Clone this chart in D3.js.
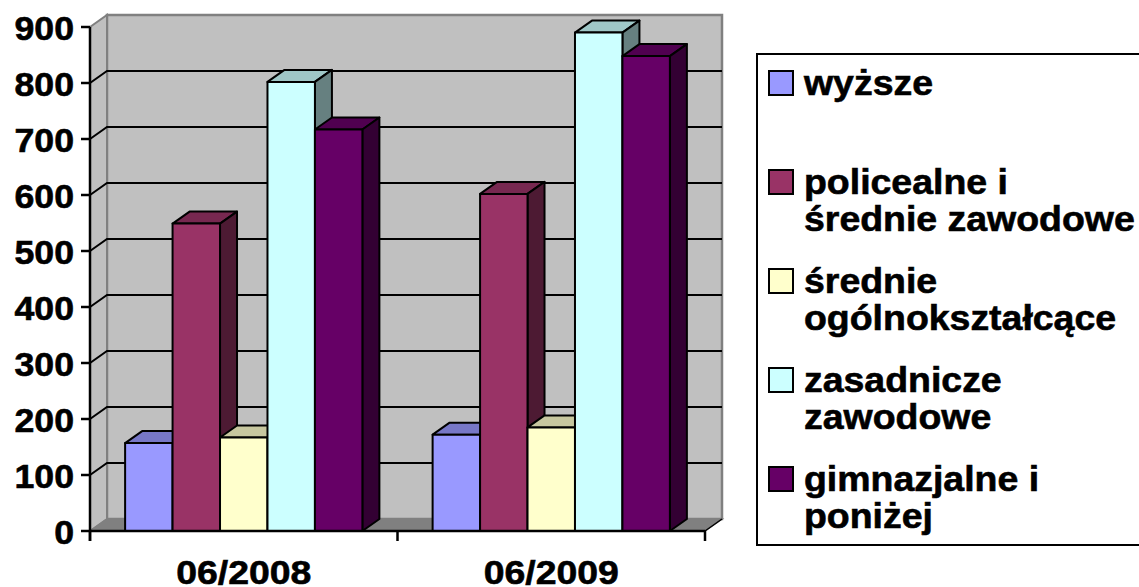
<!DOCTYPE html>
<html>
<head>
<meta charset="utf-8">
<script src="https://cdn.jsdelivr.net/npm/d3@7"></script>
<style>
  body { margin: 0; background: #fff; }
  svg { display: block; }
</style>
</head>
<body>
<div id="chart"></div>
<script>
// data
var categories = ["06/2008", "06/2009"];
var seriesNames = ["wyższe", "policealne i średnie zawodowe", "średnie ogólnokształcące", "zasadnicze zawodowe", "gimnazjalne i poniżej"];
var legendLines = [["wyższe"], ["policealne i", "średnie zawodowe"], ["średnie", "ogólnokształcące"], ["zasadnicze", "zawodowe"], ["gimnazjalne i", "poniżej"]];
var values2008 = [157, 549, 167, 802, 717];
var values2009 = [172, 602, 185, 890, 848];
var seriesColors = ["#9999FF", "#993366", "#FFFFCC", "#CCFFFF", "#660066"];

var attrs = {
    svgWidth: 1139,
    svgHeight: 587,
    fontFamily: "'Liberation Sans', Arial, sans-serif",
    fontSize: 34,
    depthX: 17,
    depthY: -12,
    wallFill: "#C0C0C0",
    wallStroke: "#808080",
    floorFill: "#808080"
};

var rows = categories.map(function (c, i) {
    var vals = i === 0 ? values2008 : values2009;
    return { category: c, values: seriesNames.map(function (s, j) { return { name: s, value: vals[j], color: seriesColors[j] }; }) };
});

var svg = d3.select("#chart").append("svg")
    .attr("width", attrs.svgWidth)
    .attr("height", attrs.svgHeight)
    .attr("font-family", attrs.fontFamily)
    .attr("font-weight", "bold");

// scales
var y = d3.scaleLinear().domain([0, 900]).range([531, 27]);
var x0 = d3.scaleBand().domain(categories).range([90, 705]).padding(0);
var x1 = d3.scaleBand().domain(seriesNames).range([0, x0.bandwidth()]).paddingInner(0).paddingOuter(0.74);

var dx = attrs.depthX, dy = attrs.depthY;
var left = x0.range()[0], right = x0.range()[1];
var line = d3.line();

// walls and floor
svg.append("rect")
    .attr("x", left + dx).attr("y", y(900) + dy)
    .attr("width", right - left).attr("height", y(0) - y(900))
    .attr("fill", attrs.wallFill).attr("stroke", attrs.wallStroke).attr("stroke-width", 2.5);

svg.append("path")
    .attr("d", line([[left, y(900)], [left + dx, y(900) + dy], [left + dx, y(0) + dy], [left, y(0)]]) + "Z")
    .attr("fill", attrs.wallFill).attr("stroke", attrs.wallStroke).attr("stroke-width", 2);

svg.append("path")
    .attr("d", line([[left, y(0)], [left + dx, y(0) + dy], [right + dx, y(0) + dy], [right, y(0)]]) + "Z")
    .attr("fill", attrs.floorFill).attr("stroke", attrs.wallStroke).attr("stroke-width", 1.5);

svg.append("path")
    .attr("d", line([[right, y(0)], [right + dx, y(0) + dy]]))
    .attr("stroke", "#000").attr("stroke-width", 1.5);

// gridlines
var gridVals = y.ticks(9).filter(function (d) { return d > 0 && d < 900; });
svg.append("g").selectAll("path").data(gridVals).enter().append("path")
    .attr("d", function (d) { return line([[left, y(d)], [left + dx, y(d) + dy], [right + dx, y(d) + dy]]); })
    .attr("fill", "none").attr("stroke", "#000").attr("stroke-width", 2);

// bars
function shade(c, k) {
    var r = d3.rgb(c);
    return d3.rgb(r.r * k, r.g * k, r.b * k).formatHex();
}

var groups = svg.append("g").selectAll("g").data(rows).enter().append("g")
    .attr("transform", function (d) { return "translate(" + x0(d.category) + ",0)"; });

groups.each(function (row) {
    var g = d3.select(this);
    row.values.forEach(function (d) {
        var xa = x1(d.name), xb = xa + x1.bandwidth();
        var yt = y(d.value), yb = y(0);
        var bar = g.append("g").attr("stroke", "#000").attr("stroke-width", 2).attr("stroke-linejoin", "round");
        bar.append("path")
            .attr("d", line([[xa, yt], [xa + dx, yt + dy], [xb + dx, yt + dy], [xb, yt]]) + "Z")
            .attr("fill", shade(d.color, 0.78));
        bar.append("path")
            .attr("d", line([[xb, yt], [xb + dx, yt + dy], [xb + dx, yb + dy], [xb, yb]]) + "Z")
            .attr("fill", shade(d.color, 0.5));
        bar.append("rect")
            .attr("x", xa).attr("y", yt)
            .attr("width", xb - xa).attr("height", yb - yt)
            .attr("fill", d.color);
    });
});

// axes
var axes = svg.append("g").attr("stroke", "#000").attr("stroke-width", 2.5);
axes.append("line").attr("x1", left).attr("x2", left).attr("y1", y(900)).attr("y2", y(0) + 10);
axes.append("line").attr("x1", left).attr("x2", right).attr("y1", y(0)).attr("y2", y(0));
axes.selectAll(".ytick").data(y.ticks(9)).enter().append("line")
    .attr("class", "ytick")
    .attr("x1", left - 9).attr("x2", left)
    .attr("y1", function (d) { return y(d); }).attr("y2", function (d) { return y(d); });
axes.selectAll(".xtick").data(categories.map(function (c) { return x0(c); }).concat([right])).enter().append("line")
    .attr("class", "xtick")
    .attr("x1", function (d) { return d; }).attr("x2", function (d) { return d; })
    .attr("y1", y(0)).attr("y2", y(0) + 10);

// text is a bit wider in the reference, so stretch it horizontally
function stretchedText(sel, tx, ty, sx) {
    return sel.attr("transform", "translate(" + tx + "," + ty + ") scale(" + sx + ",1)")
        .attr("stroke", "#000").attr("stroke-width", 0.6);
}

svg.append("g").selectAll("text").data(y.ticks(9)).enter().append("text")
    .attr("text-anchor", "end")
    .attr("font-size", attrs.fontSize)
    .each(function (d) { stretchedText(d3.select(this), 74, y(d) + 13, 1.05); })
    .text(function (d) { return d; });

svg.append("g").selectAll("text").data(categories).enter().append("text")
    .attr("text-anchor", "middle")
    .attr("font-size", attrs.fontSize)
    .each(function (d) { stretchedText(d3.select(this), x0(d) + x0.bandwidth() / 2, 584, 1.1); })
    .text(function (d) { return d; });

// legend
var legend = svg.append("g");
legend.append("rect")
    .attr("x", 757).attr("y", 54).attr("width", 420).attr("height", 491)
    .attr("fill", "#fff").attr("stroke", "#000").attr("stroke-width", 2);

var items = legend.selectAll(".item").data(seriesNames).enter().append("g")
    .attr("class", "item")
    .attr("transform", function (d, i) { return "translate(769," + (95 + i * 99) + ")"; });

items.append("rect")
    .attr("x", 0).attr("y", -24).attr("width", 24).attr("height", 24)
    .attr("fill", function (d, i) { return seriesColors[i]; })
    .attr("stroke", "#000").attr("stroke-width", 2);

items.each(function (d, i) {
    var g = d3.select(this);
    legendLines[i].forEach(function (t, k) {
        g.append("text")
            .attr("font-size", 35)
            .each(function () { stretchedText(d3.select(this), 35, k * 37, 1.07); })
            .text(t);
    });
});
</script>
</body>
</html>
